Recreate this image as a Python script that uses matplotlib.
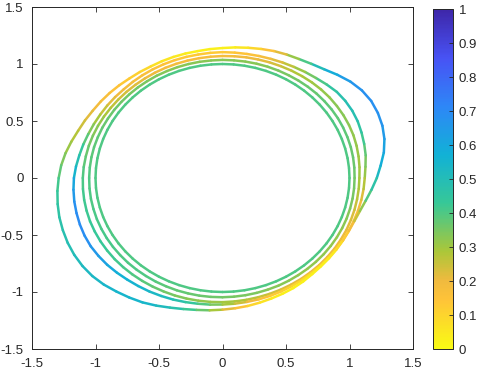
import numpy as np
import matplotlib
matplotlib.use("Agg")
import matplotlib.pyplot as plt
from matplotlib.collections import LineCollection
from matplotlib.colors import LinearSegmentedColormap, Normalize

plt.rcParams["font.family"] = ["Liberation Sans", "DejaVu Sans"]

# ── data: polar readings (angle in degrees, radius) and colour value per point ──
ANGLES = [0, 5, 10, 15, 20, 25, 30, 35, 40, 45, 50, 55,
          60, 65, 70, 75, 80, 85, 90, 95, 100, 105, 110, 115,
          120, 125, 130, 135, 140, 145, 150, 155, 160, 165, 170, 175,
          180, 185, 190, 195, 200, 205, 210, 215, 220, 225, 230, 235,
          240, 245, 250, 255, 260, 265, 270, 275, 280, 285, 290, 295,
          300, 305, 310, 315, 320, 325, 330, 335, 340, 345, 350, 355]

# outer loop
r_a = [1.215, 1.25, 1.29, 1.32, 1.34, 1.35, 1.352, 1.34, 1.315, 1.28, 1.245, 1.222,
       1.205, 1.195, 1.185, 1.172, 1.16, 1.15, 1.14, 1.135, 1.13, 1.13, 1.13, 1.13,
       1.13, 1.135, 1.14, 1.15, 1.16, 1.17, 1.18, 1.195, 1.21, 1.232, 1.255, 1.275,
       1.29, 1.305, 1.318, 1.33, 1.338, 1.345, 1.348, 1.346, 1.338, 1.322, 1.30, 1.28,
       1.26, 1.235, 1.21, 1.19, 1.175, 1.165, 1.155, 1.147, 1.14, 1.132, 1.125, 1.12,
       1.115, 1.108, 1.10, 1.096, 1.095, 1.095, 1.095, 1.098, 1.105, 1.12, 1.145, 1.178]
c_a = [0.50, 0.56, 0.60, 0.64, 0.66, 0.68, 0.68, 0.68, 0.66, 0.62, 0.55, 0.45,
       0.36, 0.26, 0.18, 0.12, 0.07, 0.04, 0.03, 0.03, 0.03, 0.04, 0.05, 0.06,
       0.08, 0.10, 0.12, 0.14, 0.16, 0.18, 0.20, 0.23, 0.26, 0.29, 0.32, 0.36,
       0.40, 0.43, 0.45, 0.47, 0.48, 0.49, 0.50, 0.52, 0.53, 0.54, 0.55, 0.55,
       0.55, 0.53, 0.50, 0.45, 0.40, 0.33, 0.25, 0.18, 0.12, 0.08, 0.05, 0.03,
       0.03, 0.03, 0.03, 0.03, 0.04, 0.06, 0.10, 0.15, 0.22, 0.28, 0.36, 0.43]

# second loop
r_b = [1.12, 1.13, 1.145, 1.155, 1.165, 1.175, 1.18, 1.18, 1.175, 1.16, 1.145, 1.135,
       1.125, 1.118, 1.112, 1.108, 1.105, 1.104, 1.104, 1.102, 1.10, 1.10, 1.10, 1.10,
       1.10, 1.10, 1.10, 1.10, 1.104, 1.108, 1.112, 1.118, 1.125, 1.135, 1.145, 1.158,
       1.17, 1.178, 1.185, 1.19, 1.195, 1.198, 1.198, 1.192, 1.185, 1.175, 1.165, 1.157,
       1.15, 1.142, 1.135, 1.127, 1.12, 1.115, 1.11, 1.107, 1.104, 1.102, 1.10, 1.097,
       1.095, 1.092, 1.09, 1.09, 1.09, 1.092, 1.095, 1.097, 1.10, 1.105, 1.11, 1.115]
c_b = [0.30, 0.33, 0.36, 0.40, 0.44, 0.47, 0.50, 0.49, 0.47, 0.43, 0.38, 0.33,
       0.28, 0.24, 0.20, 0.17, 0.15, 0.14, 0.13, 0.13, 0.13, 0.13, 0.14, 0.15,
       0.16, 0.17, 0.18, 0.19, 0.20, 0.23, 0.27, 0.31, 0.36, 0.41, 0.46, 0.52,
       0.58, 0.63, 0.67, 0.69, 0.70, 0.69, 0.67, 0.64, 0.61, 0.58, 0.56, 0.55,
       0.54, 0.52, 0.50, 0.46, 0.42, 0.37, 0.32, 0.27, 0.22, 0.18, 0.14, 0.12,
       0.10, 0.09, 0.08, 0.08, 0.08, 0.09, 0.10, 0.12, 0.14, 0.17, 0.20, 0.25]

# third loop
r_c = [1.078, 1.083, 1.088, 1.093, 1.097, 1.099, 1.10, 1.10, 1.10, 1.098, 1.095, 1.091,
       1.087, 1.083, 1.08, 1.077, 1.075, 1.072, 1.07, 1.068, 1.067, 1.066, 1.066, 1.066,
       1.066, 1.066, 1.067, 1.069, 1.071, 1.074, 1.078, 1.082, 1.086, 1.09, 1.093, 1.097,
       1.10, 1.103, 1.106, 1.108, 1.11, 1.11, 1.11, 1.109, 1.108, 1.106, 1.104, 1.102,
       1.10, 1.098, 1.097, 1.095, 1.093, 1.091, 1.089, 1.087, 1.085, 1.083, 1.082, 1.081,
       1.08, 1.08, 1.079, 1.079, 1.078, 1.078, 1.077, 1.077, 1.076, 1.076, 1.076, 1.077]
c_c = [0.30, 0.30, 0.30, 0.31, 0.32, 0.32, 0.33, 0.33, 0.32, 0.31, 0.30, 0.29,
       0.27, 0.25, 0.22, 0.21, 0.20, 0.19, 0.18, 0.18, 0.18, 0.18, 0.18, 0.19,
       0.20, 0.21, 0.22, 0.23, 0.25, 0.27, 0.30, 0.32, 0.34, 0.36, 0.37, 0.39,
       0.40, 0.41, 0.42, 0.42, 0.43, 0.43, 0.43, 0.43, 0.42, 0.41, 0.40, 0.39,
       0.38, 0.36, 0.35, 0.33, 0.32, 0.31, 0.30, 0.29, 0.28, 0.26, 0.25, 0.23,
       0.22, 0.21, 0.20, 0.20, 0.20, 0.20, 0.20, 0.21, 0.22, 0.24, 0.26, 0.28]

# fourth loop
r_d = [1.040, 1.042, 1.044, 1.046, 1.047, 1.048, 1.049, 1.049, 1.048, 1.047, 1.045, 1.043,
       1.041, 1.040, 1.039, 1.038, 1.037, 1.036, 1.036, 1.035, 1.035, 1.035, 1.035, 1.035,
       1.036, 1.036, 1.037, 1.038, 1.039, 1.041, 1.042, 1.044, 1.045, 1.047, 1.048, 1.049,
       1.050, 1.051, 1.052, 1.052, 1.053, 1.053, 1.053, 1.053, 1.052, 1.052, 1.051, 1.050,
       1.050, 1.049, 1.049, 1.048, 1.048, 1.047, 1.046, 1.045, 1.044, 1.043, 1.042, 1.042,
       1.041, 1.040, 1.040, 1.040, 1.040, 1.040, 1.040, 1.040, 1.040, 1.040, 1.040, 1.040]
c_d = [0.36, 0.36, 0.37, 0.37, 0.38, 0.38, 0.38, 0.38, 0.38, 0.37, 0.37, 0.36,
       0.35, 0.35, 0.34, 0.33, 0.33, 0.33, 0.33, 0.33, 0.33, 0.33, 0.33, 0.33,
       0.34, 0.34, 0.35, 0.35, 0.36, 0.36, 0.37, 0.37, 0.38, 0.38, 0.39, 0.39,
       0.40, 0.40, 0.40, 0.40, 0.41, 0.41, 0.41, 0.41, 0.40, 0.40, 0.40, 0.40,
       0.39, 0.38, 0.38, 0.37, 0.37, 0.36, 0.36, 0.35, 0.35, 0.34, 0.34, 0.33,
       0.33, 0.32, 0.32, 0.32, 0.32, 0.32, 0.32, 0.32, 0.33, 0.34, 0.35, 0.35]

# innermost loop: unit circle
r_e = [1.0] * 72
c_e = [0.40] * 72

LOOPS = [(r_e, c_e), (r_d, c_d), (r_c, c_c), (r_b, c_b), (r_a, c_a)]

# reversed parula (value -> colour)
CMAP_VALS = [0.0, 0.143, 0.2, 0.286, 0.429, 0.571, 0.714, 0.857, 1.0]
CMAP_COLS = [(0.9769, 0.9839, 0.0805), (0.9970, 0.7659, 0.2199),
             (0.9400, 0.7300, 0.2450), (0.6720, 0.7793, 0.2227),
             (0.2161, 0.7843, 0.5923), (0.0689, 0.6948, 0.8394),
             (0.1786, 0.5289, 0.9682), (0.2810, 0.3228, 0.9579),
             (0.2422, 0.1504, 0.6603)]

cmap = LinearSegmentedColormap.from_list("parula_r", list(zip(CMAP_VALS, CMAP_COLS)))
norm = Normalize(0, 1)
AX_COL = "#262626"

fig = plt.figure(figsize=(4.8, 3.76), dpi=100)
ax = fig.add_axes([32 / 480, 27 / 376, 381 / 480, 342 / 376])
cax = fig.add_axes([433 / 480, 27 / 376, 20 / 480, 340 / 376])

th = np.deg2rad(np.array(ANGLES + [360]))
for r, c in LOOPS:
    rr = np.array(r + [r[0]])
    cc = np.array(c + [c[0]])
    pts = np.column_stack([rr * np.cos(th), rr * np.sin(th)]).reshape(-1, 1, 2)
    segs = np.concatenate([pts[:-1], pts[1:]], axis=1)
    lc = LineCollection(segs, cmap=cmap, norm=norm, linewidths=1.8,
                        capstyle="round", joinstyle="round")
    lc.set_array(0.5 * (cc[:-1] + cc[1:]))
    ax.add_collection(lc)

ax.set_xlim(-1.5, 1.5)
ax.set_ylim(-1.5, 1.5)
ticks = [-1.5, -1, -0.5, 0, 0.5, 1, 1.5]
tick_labels = ["-1.5", "-1", "-0.5", "0", "0.5", "1", "1.5"]
ax.set_xticks(ticks)
ax.set_yticks(ticks)
ax.set_xticklabels(tick_labels)
ax.set_yticklabels(tick_labels)
ax.tick_params(direction="in", length=3.5, width=0.6, colors=AX_COL,
               labelsize=9.5, top=True, right=True)
ax.tick_params(axis="x", pad=6.5)
ax.tick_params(axis="y", pad=6)
for s in ax.spines.values():
    s.set_color(AX_COL)
    s.set_linewidth(0.7)

sm = plt.cm.ScalarMappable(cmap=cmap, norm=norm)
cb = fig.colorbar(sm, cax=cax)
cb.set_ticks([i / 10 for i in range(11)])
cb.set_ticklabels(["0", "0.1", "0.2", "0.3", "0.4", "0.5", "0.6",
                   "0.7", "0.8", "0.9", "1"])
cax.tick_params(direction="in", length=3, width=0.6, colors=AX_COL,
                labelsize=9.5, pad=4)
cb.outline.set_edgecolor(AX_COL)
cb.outline.set_linewidth(0.7)

fig.savefig("out.png", dpi=100)
